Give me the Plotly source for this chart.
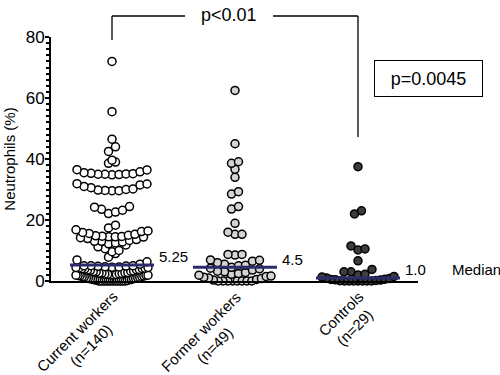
import numpy as np
import plotly.graph_objects as go

# ---------------- data ----------------
categories = ["Current workers", "Former workers", "Controls"]
sample_sizes = [140, 49, 29]

current_workers = [
    0, 0, 0, 0, 0, 0, 0, 0, 0, 0, 0, 0, 0, 0,
    0.2, 0.3, 0.4, 0.5, 0.5, 0.6, 0.7, 0.8, 0.9, 1.0, 1.0, 1.1, 1.2, 1.3,
    1.4, 1.5, 1.6, 1.7, 1.8, 1.9, 1.9, 1.9,
    2.0, 2.0, 2.1, 2.2, 2.3, 2.4, 2.5, 2.6, 2.6, 2.7, 2.8, 3.0, 3.1, 3.2,
    3.3, 3.5, 3.6, 3.7, 3.8, 3.9, 4.0, 4.1, 4.2, 4.3, 4.4, 4.4,
    4.5, 4.6, 4.7, 4.8, 4.9, 5.0, 5.0, 5.0,
    5.5, 6.3, 6.9,
    7.8, 9.0,
    9.6, 10.0, 10.6, 11.2, 11.8,
    12.2, 12.5, 12.8, 13.0, 13.0, 13.3, 13.6, 13.9, 14.2, 14.4,
    14.5, 14.5, 14.6, 14.7, 14.8, 15.0, 15.3, 15.6, 15.9, 16.2, 16.4, 16.8,
    17.4, 18.3,
    22.1, 22.6, 23.2, 23.5, 24.2, 24.4,
    29.6, 29.6, 29.7, 29.8, 30.0, 30.2, 30.6, 31.0, 31.5, 31.8, 31.9,
    34.8, 34.9, 35.0, 35.0, 35.1, 35.2, 35.3, 35.5, 35.8, 36.4, 36.5,
    38.6, 39.0, 39.6, 42.5, 44.0, 46.5, 55.5, 72.0,
]

former_workers = [
    0, 0, 0, 0, 0, 0, 0, 0, 0.3, 0.5, 0.8, 1.0, 1.2, 1.5, 1.6, 1.9,
    2.2, 2.5, 2.8, 3.0, 3.2, 3.6, 4.0, 4.2,
    4.5,
    5.0, 5.2, 5.5, 6.0, 6.5, 6.8, 6.9,
    8.5, 8.7, 8.7, 15.3, 15.3, 16.0, 18.9, 23.6, 24.4, 28.5, 29.3,
    34.0, 36.6, 38.6, 39.1, 45.0, 62.5,
]

controls = [
    0, 0, 0, 0, 0, 0, 0, 0.1, 0.2, 0.3, 0.4, 0.5, 0.6, 0.8,
    1.0,
    1.3, 1.5, 2.0, 2.2, 3.0, 3.0, 3.8, 6.6, 10.2, 10.5, 11.5, 22.0, 23.0, 37.5,
]

groups = [current_workers, former_workers, controls]
fill_colors = ["#ffffff", "#d4d4d4", "#3d3d3d"]
y_ticks = [0, 20, 40, 60, 80]
bracket_text = "p<0.01"
overall_text = "p=0.0045"
median_word = "Median"

# ---------------- geometry ----------------
W, H = 500, 375
PLOT_LEFT, PLOT_TOP, PLOT_RIGHT, PLOT_BOTTOM = 51, 37, 418, 281  # page px
ML, MT = PLOT_LEFT, PLOT_TOP
plot_w = PLOT_RIGHT - PLOT_LEFT
plot_h = PLOT_BOTTOM - PLOT_TOP
MR = W - ML - plot_w
MB = H - MT - plot_h
X_RANGE = [-0.496, 2.488]
Y_RANGE = [0, 80]
px_per_x = plot_w / (X_RANGE[1] - X_RANGE[0])

FONT = "Liberation Sans, Arial, Helvetica, sans-serif"


def paper_y(row_px):
    return (PLOT_BOTTOM - row_px) / plot_h


def paper_x(col_px):
    return (col_px - PLOT_LEFT) / plot_w


def swarm_offsets(values, bin_size=2.5, origin=-0.5, spacing_px=7.0, half_width_px=36.0):
    vals = np.asarray(values, dtype=float)
    bins = np.floor((vals - origin) / bin_size).astype(int)
    offsets = np.zeros(len(vals))
    for b in np.unique(bins):
        idx = np.where(bins == b)[0]
        idx = idx[np.argsort(vals[idx], kind="stable")]
        n = len(idx)
        if n == 1:
            continue
        s = min(spacing_px, 2 * half_width_px / (n - 1))
        slots = (np.arange(n) - (n - 1) / 2) * s
        pairs = {}
        for k in range(n):
            pairs.setdefault(round(abs(slots[k]), 6), []).append(k)
        ordered = []
        for j, key in enumerate(sorted(pairs)):
            ks = sorted(pairs[key], key=lambda k: slots[k])
            if j % 2 == 1:
                ks = ks[::-1]
            ordered.extend(ks)
        for pos, k in zip(idx, ordered):
            offsets[pos] = slots[k]
    return offsets / px_per_x


def fmt_median(m):
    s = ("%.2f" % m).rstrip("0")
    if s.endswith("."):
        s += "0"
    return s


fig = go.Figure()

for i, vals in enumerate(groups):
    xs = i + swarm_offsets(vals)
    fig.add_trace(go.Scatter(
        x=xs, y=vals, mode="markers", cliponaxis=False, showlegend=False,
        marker=dict(size=8, color=fill_colors[i], line=dict(color="black", width=1.5)),
        hoverinfo="y",
    ))

half_med = 42 / px_per_x
medians = [float(np.median(v)) for v in groups]
for i, m in enumerate(medians):
    fig.add_trace(go.Scatter(
        x=[i - half_med, i + half_med], y=[m, m], mode="lines", showlegend=False,
        line=dict(color="#2d2b6e", width=3), hoverinfo="skip", cliponaxis=False,
    ))

annotations = []
for i, m in enumerate(medians):
    annotations.append(dict(
        x=i + half_med, y=m, xref="x", yref="y", text=fmt_median(m), showarrow=False,
        xanchor="left", yanchor="middle", xshift=3, yshift=8,
        font=dict(family=FONT, size=15, color="black"),
    ))

annotations.append(dict(
    x=paper_x(450), y=medians[2], xref="paper", yref="y", text=median_word,
    showarrow=False, xanchor="left", yanchor="middle", yshift=8,
    font=dict(family=FONT, size=15, color="black"),
))

for i, (cat, n) in enumerate(zip(categories, sample_sizes)):
    annotations.append(dict(
        x=i, y=0, xref="x", yref="paper", text=f"{cat}<br>(n={n})", showarrow=False,
        textangle=-45, xanchor="right", yanchor="top", xshift=26, yshift=-4,
        font=dict(family=FONT, size=15, color="black"), align="center",
    ))

# bracket
top_y = paper_y(16)
text_x = 1.0 - 6 / px_per_x
gap = 44 / px_per_x
annotations.append(dict(
    x=text_x, y=top_y, xref="x", yref="paper", text=bracket_text, showarrow=False,
    xanchor="center", yanchor="middle", yshift=1,
    font=dict(family=FONT, size=18, color="black"),
))
annotations.append(dict(
    x=paper_x(428), y=paper_y(78), xref="paper", yref="paper", text=overall_text,
    showarrow=False, xanchor="center", yanchor="middle",
    width=105, height=33, borderpad=1, bordercolor="black", borderwidth=1,
    font=dict(family=FONT, size=18, color="black"),
))

line_style = dict(color="black", width=1.3)
shapes = [
    dict(type="line", xref="x", yref="paper", x0=0, x1=0, y0=paper_y(40), y1=top_y, line=line_style),
    dict(type="line", xref="x", yref="paper", x0=0, x1=text_x - gap, y0=top_y, y1=top_y, line=line_style),
    dict(type="line", xref="x", yref="paper", x0=text_x + gap, x1=2, y0=top_y, y1=top_y, line=line_style),
    dict(type="line", xref="x", yref="paper", x0=2, x1=2, y0=paper_y(137), y1=top_y, line=line_style),
]

fig.update_layout(
    width=W, height=H,
    margin=dict(l=ML, r=MR, t=MT, b=MB, autoexpand=False),
    plot_bgcolor="white", paper_bgcolor="white",
    font=dict(family=FONT, size=16, color="black"),
    annotations=annotations, shapes=shapes,
    xaxis=dict(range=X_RANGE, showline=True, linecolor="black", linewidth=2,
               showticklabels=False, ticks="", showgrid=False, zeroline=False, fixedrange=True),
    yaxis=dict(range=Y_RANGE, tickvals=y_ticks, showline=True, linecolor="black", linewidth=2,
               ticks="outside", ticklen=4, tickwidth=2, tickcolor="black",
               ticklabelstandoff=-3,
               tickfont=dict(family=FONT, size=17, color="black"),
               minor=dict(dtick=2, tick0=0, ticks="outside", ticklen=3, tickwidth=1.5,
                          tickcolor="black", showgrid=False),
               showgrid=False, zeroline=False,
               title=dict(text="Neutrophils (%)", standoff=6,
                          font=dict(family=FONT, size=15, color="black")),
               fixedrange=True),
)

# remove the browser's default 8px body margin so the figure fills the window
fig.write_html("out.html", config={"displayModeBar": False},
               post_script="document.body.style.margin='0';")
